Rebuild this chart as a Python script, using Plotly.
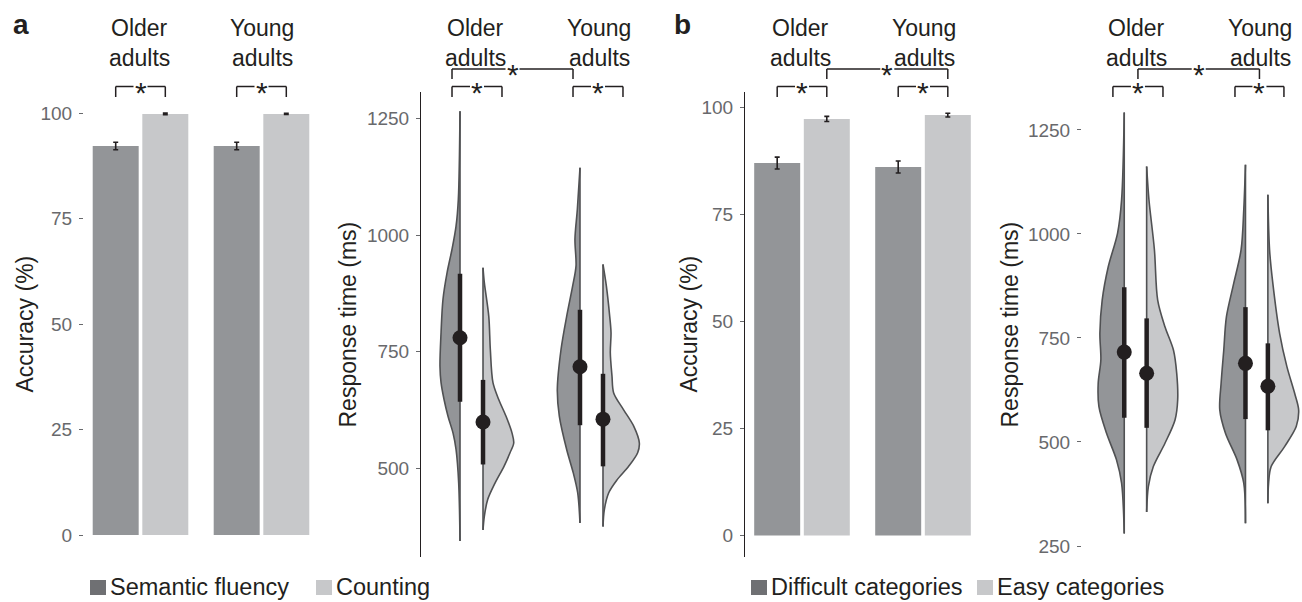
import plotly.graph_objects as go

W, H = 1302, 602
TOP, BOT = 92, 557
FONT = "Liberation Sans, Arial, Helvetica, sans-serif"
INK = "#231f20"
DARK = "#939598"
LIGHT = "#c7c8ca"
OUTLINE = "#505153"
TICKC = "#68696c"

groups = [1, 2]
group_names = ["Older adults", "Young adults"]

# ---------------- Panel a: accuracy (%) ----------------
acc_a_fluency = [92.2, 92.2]
acc_a_fluency_se = [0.9, 0.9]
acc_a_counting = [99.8, 99.8]
acc_a_counting_se = [0.2, 0.15]

# ---------------- Panel b: accuracy (%) ----------------
acc_b_difficult = [87.0, 86.1]
acc_b_difficult_se = [1.4, 1.4]
acc_b_easy = [97.3, 98.2]
acc_b_easy_se = [0.6, 0.45]

# ---------------- RT summaries (ms): mean, lower, upper ----------------
rt_a_fluency_mean = [780, 718]
rt_a_fluency_lo = [643, 593]
rt_a_fluency_hi = [917, 840]
rt_a_counting_mean = [600, 606]
rt_a_counting_lo = [509, 505]
rt_a_counting_hi = [690, 703]
rt_b_difficult_mean = [716, 689]
rt_b_difficult_lo = [558, 555]
rt_b_difficult_hi = [872, 824]
rt_b_easy_mean = [665, 634]
rt_b_easy_lo = [534, 528]
rt_b_easy_hi = [797, 737]

# ---------------- Violin density profiles (RT level in ms, half-width in x units) ----------------
vio_a_flu_old_rt = [1265, 1076, 1019, 969, 919, 862, 791, 719, 684, 648, 612, 576, 541, 469, 345]
vio_a_flu_old_w = [0, .014, .033, .067, .108, .142, .158, .167, .158, .133, .100, .058, .033, .011, 0]
vio_a_cnt_old_rt = [930, 898, 826, 755, 684, 648, 612, 576, 555, 534, 505, 469, 434, 398, 369]
vio_a_cnt_old_w = [0, .011, .048, .061, .083, .131, .192, .242, .256, .225, .175, .100, .039, .011, 0]
vio_a_flu_yng_rt = [1144, 1055, 991, 934, 891, 826, 755, 669, 612, 541, 491, 448, 384]
vio_a_flu_yng_w = [0, .022, .042, .033, .061, .111, .158, .189, .172, .111, .056, .019, 0]
vio_a_cnt_yng_rt = [937, 891, 826, 791, 748, 698, 662, 626, 591, 555, 534, 505, 476, 448, 412, 376]
vio_a_cnt_yng_w = [0, .028, .056, .067, .061, .075, .089, .172, .256, .303, .289, .214, .117, .047, .011, 0]

vio_b_dif_old_rt = [1292, 1082, 1002, 921, 841, 761, 697, 641, 585, 521, 457, 401, 280]
vio_b_dif_old_w = [0, .022, .055, .132, .182, .201, .193, .215, .209, .146, .064, .022, 0]
vio_b_eas_old_rt = [1162, 1082, 962, 841, 777, 721, 665, 601, 553, 497, 441, 393, 332]
vio_b_eas_old_w = [0, .019, .064, .091, .151, .221, .248, .256, .234, .151, .055, .014, 0]
vio_b_dif_yng_rt = [1166, 1058, 962, 881, 801, 721, 641, 577, 521, 457, 401, 305]
vio_b_dif_yng_w = [0, .014, .036, .097, .157, .179, .201, .212, .165, .069, .014, 0]
vio_b_eas_yng_rt = [1094, 962, 881, 761, 681, 617, 577, 537, 489, 441, 401, 353]
vio_b_eas_yng_w = [0, .014, .041, .097, .157, .221, .254, .234, .138, .027, .006, 0]

# ---------------- Axes geometry (pixels) ----------------
panels = {
    "a_acc": dict(px=(84, 318), xr=[0.533, 2.467], yr=[-5.2, 105], ticks=[0, 25, 50, 75, 100], line=False),
    "a_rt": dict(px=(421, 645), xr=[0.579, 2.446], yr=[311, 1306], ticks=[500, 750, 1000, 1250], line=True),
    "b_acc": dict(px=(745, 980), xr=[0.529, 2.471], yr=[-5.0, 103.6], ticks=[0, 25, 50, 75, 100], line=True),
    "b_rt": dict(px=(1082, 1302), xr=[0.559, 2.374], yr=[223.6, 1341], ticks=[250, 500, 750, 1000, 1250], line=False),
}
order = ["a_acc", "a_rt", "b_acc", "b_rt"]
axname = {k: ("" if i == 0 else str(i + 1)) for i, k in enumerate(order)}


def px_x(p):
    return p / W


def px_y(p):
    return 1 - p / H


def ppu(k):
    d = panels[k]
    return (d["px"][1] - d["px"][0]) / (d["xr"][1] - d["xr"][0])


fig = go.Figure()

# ---------------- Bars ----------------
def add_bars(k, vals, errs, color):
    n = axname[k]
    fig.add_trace(go.Bar(
        x=groups, y=vals, marker=dict(color=color, line=dict(width=0)),
        error_y=dict(type="data", array=errs, color=INK, thickness=1.6, width=2.5),
        xaxis="x" + n, yaxis="y" + n, showlegend=False, hoverinfo="skip"))


add_bars("a_acc", acc_a_fluency, acc_a_fluency_se, DARK)
add_bars("a_acc", acc_a_counting, acc_a_counting_se, LIGHT)
add_bars("b_acc", acc_b_difficult, acc_b_difficult_se, DARK)
add_bars("b_acc", acc_b_easy, acc_b_easy_se, LIGHT)


# ---------------- Half violins ----------------
def half_violin(k, center, rts, ws, side, fill):
    n = axname[k]
    sgn = -1 if side == "left" else 1
    xs = [center + sgn * w for w in ws]
    fig.add_trace(go.Scatter(
        x=xs, y=rts, mode="lines", fill="toself", fillcolor=fill,
        line=dict(color=OUTLINE, width=1.6, shape="spline", smoothing=0.9),
        xaxis="x" + n, yaxis="y" + n, showlegend=False, hoverinfo="skip"))
    fig.add_trace(go.Scatter(
        x=[center, center], y=[rts[0], rts[-1]], mode="lines",
        line=dict(color=OUTLINE, width=1.6),
        xaxis="x" + n, yaxis="y" + n, showlegend=False, hoverinfo="skip"))


def summary(k, centers, means, los, his):
    n = axname[k]
    xs, ys = [], []
    for c, lo, hi in zip(centers, los, his):
        xs += [c, c, None]
        ys += [lo, hi, None]
    fig.add_trace(go.Scatter(x=xs, y=ys, mode="lines", line=dict(color=INK, width=4.5),
                             xaxis="x" + n, yaxis="y" + n, showlegend=False, hoverinfo="skip"))
    fig.add_trace(go.Scatter(x=centers, y=means, mode="markers",
                             marker=dict(color=INK, size=15, line=dict(width=0)),
                             xaxis="x" + n, yaxis="y" + n, showlegend=False, hoverinfo="skip"))


da = 11.5 / ppu("a_rt")
db = 11.2 / ppu("b_rt")
a_left = [g - da for g in groups]
a_right = [g + da for g in groups]
b_left = [g - db for g in groups]
b_right = [g + db for g in groups]

half_violin("a_rt", a_left[0], vio_a_flu_old_rt, vio_a_flu_old_w, "left", DARK)
half_violin("a_rt", a_right[0], vio_a_cnt_old_rt, vio_a_cnt_old_w, "right", LIGHT)
half_violin("a_rt", a_left[1], vio_a_flu_yng_rt, vio_a_flu_yng_w, "left", DARK)
half_violin("a_rt", a_right[1], vio_a_cnt_yng_rt, vio_a_cnt_yng_w, "right", LIGHT)
summary("a_rt", a_left, rt_a_fluency_mean, rt_a_fluency_lo, rt_a_fluency_hi)
summary("a_rt", a_right, rt_a_counting_mean, rt_a_counting_lo, rt_a_counting_hi)

half_violin("b_rt", b_left[0], vio_b_dif_old_rt, vio_b_dif_old_w, "left", DARK)
half_violin("b_rt", b_right[0], vio_b_eas_old_rt, vio_b_eas_old_w, "right", LIGHT)
half_violin("b_rt", b_left[1], vio_b_dif_yng_rt, vio_b_dif_yng_w, "left", DARK)
half_violin("b_rt", b_right[1], vio_b_eas_yng_rt, vio_b_eas_yng_w, "right", LIGHT)
summary("b_rt", b_left, rt_b_difficult_mean, rt_b_difficult_lo, rt_b_difficult_hi)
summary("b_rt", b_right, rt_b_easy_mean, rt_b_easy_lo, rt_b_easy_hi)

# ---------------- Axes ----------------
layout = dict(
    width=W, height=H, margin=dict(l=0, r=0, t=0, b=0),
    paper_bgcolor="white", plot_bgcolor="white",
    barmode="group", bargap=0.18, bargroupgap=0.073,
    hovermode=False, showlegend=False,
    font=dict(family=FONT, color=INK),
)
for k in order:
    d = panels[k]
    n = axname[k]
    xa = "xaxis" + n
    ya = "yaxis" + n
    layout[xa] = dict(domain=[px_x(d["px"][0]), px_x(d["px"][1])], range=d["xr"],
                      showticklabels=False, ticks="", showline=False, showgrid=False,
                      zeroline=False, anchor="y" + n)
    layout[ya] = dict(domain=[px_y(BOT), px_y(TOP)], range=d["yr"], tickvals=d["ticks"],
                      ticks="outside", ticklen=4, tickwidth=1, tickcolor=TICKC,
                      tickfont=dict(size=19, color=TICKC, family=FONT),
                      showline=d["line"], linecolor=INK, linewidth=1,
                      showgrid=False, zeroline=False, anchor="x" + n,
                      ticklabelstandoff=3)

shapes = []
annotations = []


def star(k, x, y_px):
    n = axname[k]
    annotations.append(dict(text="*", x=x, y=px_y(y_px + 6), xref="x" + n, yref="paper",
                            showarrow=False, xanchor="center", yanchor="middle",
                            font=dict(size=30, color=INK, family=FONT)))


def hline_gap(k, x0, x1, y_px, xs_gap, gap_px=7):
    n = axname[k]
    g = gap_px / ppu(k)
    pts = [x0]
    for s in sorted(xs_gap):
        pts += [s - g, s + g]
    pts.append(x1)
    for i in range(0, len(pts), 2):
        if pts[i + 1] > pts[i]:
            shapes.append(dict(type="line", xref="x" + n, yref="paper", x0=pts[i], x1=pts[i + 1],
                               y0=px_y(y_px), y1=px_y(y_px), line=dict(color=INK, width=1.5)))


def drop(k, x, y0_px, y1_px):
    n = axname[k]
    shapes.append(dict(type="line", xref="x" + n, yref="paper", x0=x, x1=x,
                       y0=px_y(y0_px), y1=px_y(y1_px), line=dict(color=INK, width=1.5)))


def bracket(k, x0, x1, y_px, drop_px, xstar, extra_gaps=()):
    hline_gap(k, x0, x1, y_px, [xstar] + list(extra_gaps))
    drop(k, x0, y_px, y_px + drop_px)
    drop(k, x1, y_px, y_px + drop_px)
    star(k, xstar, y_px)


IN_Y, OUT_Y, IN_D, OUT_D = 86.5, 69, 10.5, 10

# panel a accuracy brackets
for g in groups:
    bracket("a_acc", g - 0.205, g + 0.205, IN_Y, IN_D, g)
# panel a RT brackets
a_in = [(0.8375, 1.254), (1.846, 2.2625)]
for x0, x1 in a_in:
    bracket("a_rt", x0, x1, IN_Y, IN_D, (x0 + x1) / 2)
bracket("a_rt", a_in[0][0], a_in[1][0], OUT_Y, OUT_D, (a_in[0][0] + a_in[1][0]) / 2)
# panel b accuracy brackets
for g in groups:
    bracket("b_acc", g - 0.205, g + 0.205, IN_Y, IN_D, g)
bracket("b_acc", 1.205, 2.205, OUT_Y, OUT_D, 1.705)
# panel b RT brackets
b_in = [(0.814, 1.227), (1.821, 2.225)]
for x0, x1 in b_in:
    bracket("b_rt", x0, x1, IN_Y, IN_D, (x0 + x1) / 2)
bo0 = (b_in[0][0] + b_in[0][1]) / 2
bo1 = (b_in[1][0] + b_in[1][1]) / 2
bracket("b_rt", bo0, bo1, OUT_Y, OUT_D, (bo0 + bo1) / 2)

# group labels
label_centers = {"a_acc": [139, 262], "a_rt": [475, 599], "b_acc": [800, 924], "b_rt": [1136, 1260]}
for k, cs in label_centers.items():
    for c, name in zip(cs, group_names):
        w1, w2 = name.split(" ")
        annotations.append(dict(text=w1, x=px_x(c), y=px_y(28), xref="paper", yref="paper",
                                showarrow=False, xanchor="center", yanchor="middle",
                                font=dict(size=23, color=INK, family=FONT)))
        annotations.append(dict(text=w2, x=px_x(c), y=px_y(58), xref="paper", yref="paper",
                                showarrow=False, xanchor="center", yanchor="middle",
                                font=dict(size=23, color=INK, family=FONT)))

# axis titles
titles = [("Accuracy (%)", 24), ("Response time (ms)", 347), ("Accuracy (%)", 688), ("Response time (ms)", 1009)]
for t, xc in titles:
    annotations.append(dict(text=t, x=px_x(xc), y=px_y((TOP + BOT) / 2), xref="paper", yref="paper",
                            showarrow=False, xanchor="center", yanchor="middle", textangle=-90,
                            font=dict(size=23, color=INK, family=FONT)))

# panel letters
for letter, xl in [("a", 11), ("b", 672)]:
    annotations.append(dict(text="<b>%s</b>" % letter, x=px_x(xl), y=px_y(24), xref="paper", yref="paper",
                            showarrow=False, xanchor="left", yanchor="middle",
                            font=dict(size=28, color=INK, family=FONT)))

# legends
legend_items = [("Semantic fluency", 90, "#6f7073"), ("Counting", 316, LIGHT),
                ("Difficult categories", 751, "#6f7073"), ("Easy categories", 977, LIGHT)]
for txt, x0, col in legend_items:
    shapes.append(dict(type="rect", xref="paper", yref="paper", x0=px_x(x0), x1=px_x(x0 + 16),
                       y0=px_y(595), y1=px_y(580), fillcolor=col, line=dict(width=0)))
    annotations.append(dict(text=txt, x=px_x(x0 + 18), y=px_y(587), xref="paper", yref="paper",
                            showarrow=False, xanchor="left", yanchor="middle",
                            font=dict(size=23.5, color=INK, family=FONT)))

layout["shapes"] = shapes
layout["annotations"] = annotations
fig.update_layout(**layout)
fig.write_html("out.html", config={"displayModeBar": False},
               post_script="document.body.style.margin='0';document.body.style.padding='0';document.body.style.overflow='hidden';")
